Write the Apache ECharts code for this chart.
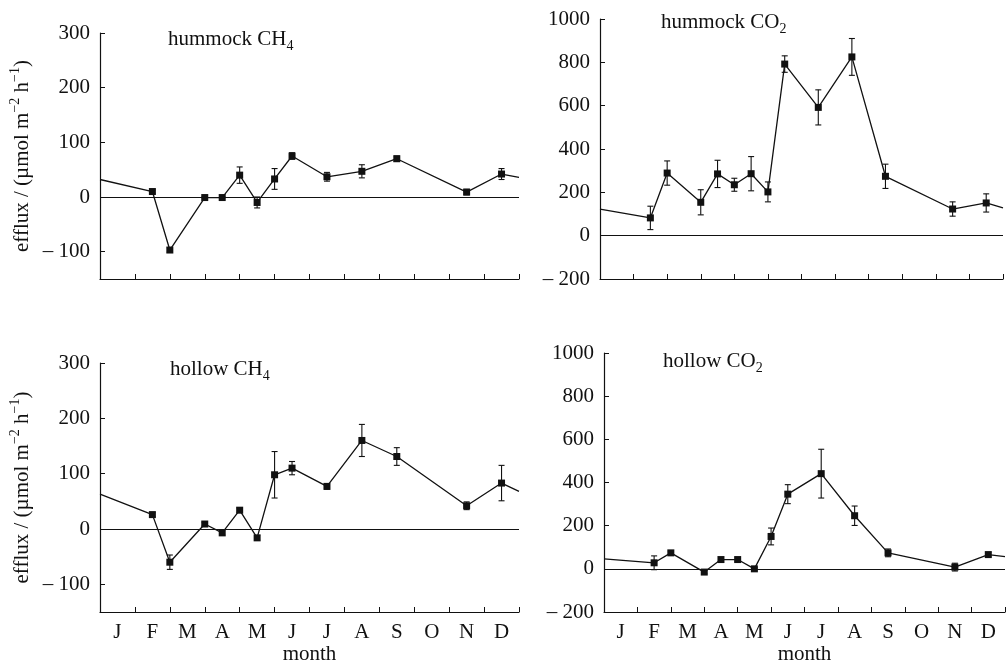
<!DOCTYPE html>
<html>
<head>
<meta charset="utf-8">
<script src="https://cdn.jsdelivr.net/npm/echarts@6/dist/echarts.min.js"></script>
<style>
  html, body { margin: 0; padding: 0; background: #fff; }
  #main { width: 1006px; height: 663px; }
</style>
</head>
<body>
<div id="main"></div>
<script>
// month letters and sampling dates (in months from 1 Jan)
const months = ['J', 'F', 'M', 'A', 'M', 'J', 'J', 'A', 'S', 'O', 'N', 'D']
const sampleMonth = [1.5, 2, 3, 3.5, 4, 4.5, 5, 5.5, 6.5, 7.5, 8.5, 10.5, 11.5]

const hummockCH4 = [10, -97, -1, -1, 40, -10, 33, 75, 37, 47, 70, 9, 42]
const hummockCH4Err = [3, 4, 2, 2, 15, 10, 19, 6, 8, 12, 5, 5, 10]
const hummockCH4Edge = [32, 36]

const hummockCO2 = [82, 289, 154, 285, 235, 286, 202, 792, 592, 825, 274, 123, 151]
const hummockCO2Err = [54, 56, 58, 63, 30, 79, 46, 38, 81, 85, 56, 33, 42]
const hummockCO2Edge = [123, 128]

const hollowCH4 = [26, -60, 9, -7, 34, -16, 98, 110, 77, 160, 131, 42, 83]
const hollowCH4Err = [4, 13, 3, 4, 4, 4, 42, 12, 5, 29, 16, 7, 32]
const hollowCH4Edge = [63, 68]

const hollowCO2 = [28, 74, -15, 43, 43, 0, 150, 346, 441, 246, 74, 8, 66]
const hollowCO2Err = [32, 8, 8, 8, 8, 6, 39, 44, 113, 45, 18, 18, 10]
const hollowCO2Edge = [46, 57]

const ch4Ticks = [-100, 0, 100, 200, 300]
const co2Ticks = [-200, 0, 200, 400, 600, 800, 1000]

const FONT = 'Liberation Serif'
const INK = '#111'
const FS = 21

const panels = [
  { values: hummockCH4, err: hummockCH4Err, edge: hummockCH4Edge, ticks: ch4Ticks, min: -150, max: 300,
    grid: { left: 100, top: 33, width: 419, height: 246 }, title: 'hummock CH{sub|4}', titlePos: [168, 25],
    yName: true, months: false },
  { values: hummockCO2, err: hummockCO2Err, edge: hummockCO2Edge, ticks: co2Ticks, min: -200, max: 1000,
    grid: { left: 600, top: 19, width: 403, height: 260 }, title: 'hummock CO{sub|2}', titlePos: [661, 8],
    yName: false, months: false },
  { values: hollowCH4, err: hollowCH4Err, edge: hollowCH4Edge, ticks: ch4Ticks, min: -150, max: 300,
    grid: { left: 100, top: 363, width: 419, height: 249 }, title: 'hollow CH{sub|4}', titlePos: [170, 355],
    yName: true, months: true },
  { values: hollowCO2, err: hollowCO2Err, edge: hollowCO2Edge, ticks: co2Ticks, min: -200, max: 1000,
    grid: { left: 604, top: 353, width: 401, height: 259 }, title: 'hollow CO{sub|2}', titlePos: [663, 347],
    yName: false, months: true }
]

const subStyle = { fontFamily: FONT, fontSize: 14, lineHeight: 14, verticalAlign: 'bottom', color: INK }
const supStyle = { fontFamily: FONT, fontSize: 14, lineHeight: 14, verticalAlign: 'top', color: INK }

function negLabel(v) {
  return v < 0 ? '\u2013 ' + Math.abs(v) : String(v)
}

function renderError(params, api) {
  const x = api.value(0)
  const top = api.coord([x, api.value(2)])
  const bot = api.coord([x, api.value(1)])
  const w = 3
  const style = { stroke: INK, lineWidth: 1.1 }
  return {
    type: 'group',
    children: [
      { type: 'line', shape: { x1: top[0], y1: top[1], x2: bot[0], y2: bot[1] }, style },
      { type: 'line', shape: { x1: top[0] - w, y1: top[1], x2: top[0] + w, y2: top[1] }, style },
      { type: 'line', shape: { x1: bot[0] - w, y1: bot[1], x2: bot[0] + w, y2: bot[1] }, style }
    ]
  }
}

const option = {
  backgroundColor: '#fff',
  animation: false,
  title: [],
  grid: [],
  xAxis: [],
  yAxis: [],
  series: []
}

panels.forEach((p, i) => {
  option.title.push({
    text: p.title,
    left: p.titlePos[0],
    top: p.titlePos[1],
    padding: 0,
    textStyle: { fontFamily: FONT, fontSize: FS, fontWeight: 'normal', color: INK, lineHeight: 28, rich: { sub: subStyle } }
  })
  option.grid.push(Object.assign({ outerBoundsMode: 'none', containLabel: false }, p.grid))
  option.xAxis.push({
    type: 'value',
    gridIndex: i,
    min: 0,
    max: 12,
    splitLine: { show: false },
    axisLine: { onZero: false, lineStyle: { color: INK, width: 1.2 } },
    axisTick: { inside: true, length: 5, lineStyle: { color: INK }, customValues: [0, 1, 2, 3, 4, 5, 6, 7, 8, 9, 10, 11, 12] },
    axisLabel: {
      show: p.months,
      customValues: months.map((m, k) => k + 0.5),
      formatter: v => months[Math.floor(v)],
      fontFamily: FONT, fontSize: FS, color: INK, margin: 10
    },
    name: p.months ? 'month' : '',
    nameLocation: 'middle',
    nameGap: 29,
    nameTextStyle: { fontFamily: FONT, fontSize: FS, color: INK }
  })
  option.yAxis.push({
    type: 'value',
    gridIndex: i,
    min: p.min,
    max: p.max,
    splitLine: { show: false },
    axisLine: { onZero: false, lineStyle: { color: INK, width: 1.2 } },
    axisTick: { inside: true, length: 5, lineStyle: { color: INK }, customValues: p.ticks },
    axisLabel: { customValues: p.ticks, formatter: negLabel, fontFamily: FONT, fontSize: FS, color: INK, margin: 10 },
    name: p.yName ? 'efflux / (\u00b5mol m{sup|\u22122} h{sup|\u22121})' : '',
    nameLocation: 'middle',
    nameGap: 64,
    nameTextStyle: { fontFamily: FONT, fontSize: FS, color: INK, lineHeight: 28, rich: { sup: supStyle } }
  })

  const lineData = [{ value: [0, p.edge[0]], symbol: 'none' }]
  sampleMonth.forEach((m, k) => lineData.push([m, p.values[k]]))
  lineData.push({ value: [12, p.edge[1]], symbol: 'none' })

  option.series.push({
    type: 'line',
    xAxisIndex: i,
    yAxisIndex: i,
    data: lineData,
    symbol: 'rect',
    symbolSize: 7,
    itemStyle: { color: INK },
    lineStyle: { color: INK, width: 1.3 },
    markLine: {
      silent: true,
      symbol: ['none', 'none'],
      label: { show: false },
      lineStyle: { color: INK, width: 1.2, type: 'solid' },
      data: [{ yAxis: 0 }]
    },
    z: 3
  })
  option.series.push({
    type: 'custom',
    xAxisIndex: i,
    yAxisIndex: i,
    renderItem: renderError,
    encode: { x: 0, y: [1, 2] },
    data: sampleMonth.map((m, k) => [m, p.values[k] - p.err[k], p.values[k] + p.err[k]]),
    z: 2
  })
})

const chart = echarts.init(document.getElementById('main'))
chart.setOption(option)
</script>
</body>
</html>
